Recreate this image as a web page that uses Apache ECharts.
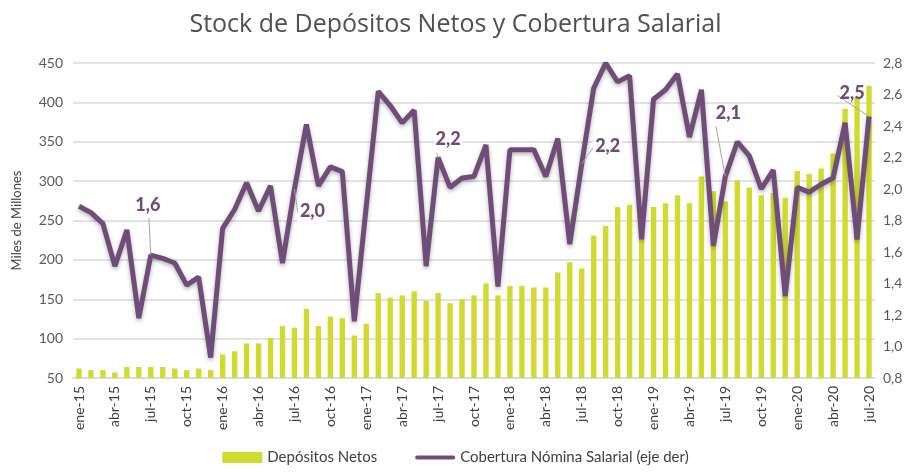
<!DOCTYPE html>
<html>
<head>
<meta charset="utf-8">
<script src="https://cdn.jsdelivr.net/npm/echarts@6/dist/echarts.min.js"></script>
<style>
  html, body { margin: 0; padding: 0; background: #fff; }
  #main { width: 911px; height: 472px; }
</style>
</head>
<body>
<div id="main"></div>
<script>
// meses ene-15 .. jul-20
const mesesCortos = ['ene', 'feb', 'mar', 'abr', 'may', 'jun', 'jul', 'ago', 'sep', 'oct', 'nov', 'dic'];
const anios = ['15', '16', '17', '18', '19', '20'];
const categorias = [];
anios.forEach(a => mesesCortos.forEach(m => categorias.push(m + '-' + a)));
categorias.length = 67;

// Depósitos Netos (miles de millones)
const depositos = [
  62, 60, 60, 57, 64, 64, 64, 64, 62, 60, 62, 60,
  80, 84, 94, 94, 101, 116, 114, 138, 116, 128, 126, 104,
  119, 158, 152, 155, 160, 148, 158, 145, 150, 155, 170, 155,
  167, 167, 165, 165, 184, 197, 189, 231, 243, 267, 270, 268,
  267, 272, 282, 272, 306, 287, 274, 301, 292, 282, 285, 279,
  313, 309, 316, 335, 392, 406, 421
];

// Cobertura Nómina Salarial (eje der)
const cobertura = [
  1.89, 1.85, 1.78, 1.51, 1.74, 1.18, 1.58, 1.56, 1.53, 1.39, 1.44, 0.93,
  1.75, 1.87, 2.04, 1.86, 2.02, 1.53, 2.00, 2.41, 2.02, 2.14, 2.11, 1.16,
  1.89, 2.62, 2.53, 2.42, 2.50, 1.51, 2.20, 2.01, 2.07, 2.08, 2.28, 1.38,
  2.25, 2.25, 2.25, 2.08, 2.32, 1.65, 2.16, 2.64, 2.80, 2.68, 2.72, 1.68,
  2.57, 2.63, 2.73, 2.33, 2.63, 1.64, 2.08, 2.30, 2.21, 2.00, 2.12, 1.32,
  2.01, 1.98, 2.03, 2.07, 2.42, 1.68, 2.46
];

// etiquetas en los meses de julio: desplazamiento [dx, dy]
const etiquetas = { 6: [-3, -37], 18: [18, 35], 30: [10, -5], 42: [26, -5], 54: [3, -50], 66: [-17, -10] };

const colorBarra = '#cfdb2e';
const colorLinea = '#704d78';
const coma = v => v.toFixed(1).replace('.', ',');

const chart = echarts.init(document.getElementById('main'));

const option = {
  backgroundColor: '#fff',
  animation: false,
  title: {
    text: 'Stock de Depósitos Netos y Cobertura Salarial',
    left: 'center',
    top: 7,
    textStyle: { fontFamily: 'Open Sans', fontSize: 25, fontWeight: 'normal', color: '#505050' }
  },
  legend: {
    bottom: 2,
    left: 'center',
    itemGap: 38,
    itemWidth: 40,
    itemHeight: 11,
    textStyle: { fontFamily: 'Lato', fontSize: 15, color: '#404040' },
    data: [
      { name: 'Depósitos Netos', icon: 'rect' },
      { name: 'Cobertura Nómina Salarial (eje der)', icon: 'path://M2,0 H38 A2,2 0 0 1 38,4 H2 A2,2 0 0 1 2,0 Z' }
    ]
  },
  grid: { left: 73, right: 36, top: 63, bottom: 94 },
  xAxis: {
    type: 'category',
    data: categorias,
    axisTick: { show: false },
    axisLine: { lineStyle: { color: '#d9d9d9', width: 1.5 } },
    axisLabel: {
      interval: 2,
      rotate: 90,
      margin: 8,
      fontFamily: 'Lato',
      fontSize: 14,
      color: '#404040'
    }
  },
  yAxis: [
    {
      type: 'value',
      min: 50,
      max: 450,
      interval: 50,
      name: 'Miles de Millones',
      nameLocation: 'middle',
      nameGap: 50,
      nameTextStyle: { fontFamily: 'Lato', fontSize: 13, color: '#404040' },
      axisLabel: { fontFamily: 'Lato', fontSize: 14, color: '#595959', margin: 10 },
      splitLine: { lineStyle: { color: '#d9d9d9', width: 1.5 } }
    },
    {
      type: 'value',
      min: 0.8,
      max: 2.8,
      interval: 0.2,
      position: 'right',
      splitLine: { show: false },
      axisLabel: {
        fontFamily: 'Lato', fontSize: 14, color: '#595959', margin: 8,
        formatter: v => coma(v)
      }
    }
  ],
  series: [
    {
      name: 'Depósitos Netos',
      type: 'bar',
      data: depositos,
      barWidth: '45%',
      itemStyle: { color: colorBarra }
    },
    {
      name: 'Cobertura Nómina Salarial (eje der)',
      type: 'line',
      yAxisIndex: 1,
      data: cobertura.map((v, i) => etiquetas[i]
        ? { value: v, label: { show: true, backgroundColor: i === 66 ? 'transparent' : '#fff' } }
        : v),
      showSymbol: true,
      symbol: 'circle',
      symbolSize: 0,
      z: 5,
      itemStyle: { color: colorLinea },
      lineStyle: {
        color: colorLinea, width: 5,
        shadowColor: 'rgba(0,0,0,0.3)', shadowBlur: 4, shadowOffsetY: 2
      },
      label: {
        show: false,
        position: 'top',
        distance: 0,
        padding: [0, 2, 4, 2],
        fontFamily: 'Lato',
        fontWeight: 900,
        fontSize: 18,
        color: colorLinea,
        formatter: p => coma(p.value)
      },
      labelLine: { show: true, lineStyle: { color: '#a6a6a6', width: 1 } },
      labelLayout: p => {
        const d = etiquetas[p.dataIndex];
        return d ? { dx: d[0], dy: d[1] } : {};
      }
    }
  ]
};

chart.setOption(option);
</script>
</body>
</html>
